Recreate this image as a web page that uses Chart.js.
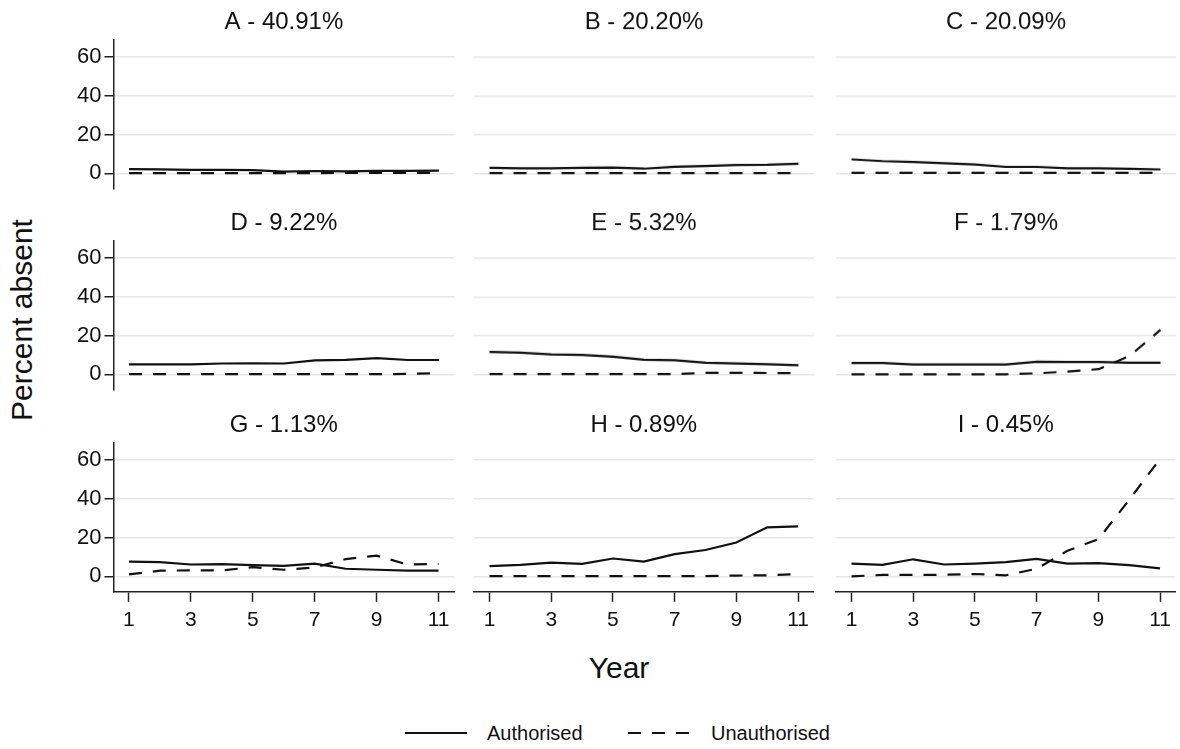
<!DOCTYPE html>
<html>
<head>
<meta charset="utf-8">
<script src="https://cdn.jsdelivr.net/npm/chart.js@4.4.1/dist/chart.umd.min.js"></script>
<style>
  body { margin: 0; background: #fff; width: 1180px; height: 749px; position: relative; overflow: hidden;
         font-family: "Liberation Sans", Arial, sans-serif; color: #111; }
  .panel { position: absolute; }
  .ytitle { position: absolute; left: 22px; top: 320px; font-size: 30px; line-height: 30px; white-space: nowrap;
            transform: translate(-50%, -50%) rotate(-90deg); }
  .xtitle { position: absolute; left: 619px; top: 668px; font-size: 30px; line-height: 30px;
            transform: translate(-50%, -50%); }
  .leg { position: absolute; top: 733px; font-size: 20px; line-height: 20px; transform: translateY(-50%); white-space: nowrap; }
  .legline { position: absolute; top: 723px; }
</style>
</head>
<body>
<div class="ytitle">Percent absent</div>
<div class="xtitle">Year</div>
<div id="legend"></div>

<script>
// values
const years = [1, 2, 3, 4, 5, 6, 7, 8, 9, 10, 11];
const xTicks = [1, 3, 5, 7, 9, 11];
const yTicks = [0, 20, 40, 60];
const seriesNames = ['Authorised', 'Unauthorised'];
const panelLetters = ['A', 'B', 'C', 'D', 'E', 'F', 'G', 'H', 'I'];
const panelShares = ['40.91', '20.20', '20.09', '9.22', '5.32', '1.79', '1.13', '0.89', '0.45'];

const authA = [2.2, 2.0, 1.8, 1.8, 1.6, 0.9, 1.2, 1.0, 1.3, 1.3, 1.4];
const unauthA = [0.1, 0.1, 0.1, 0.1, 0.1, 0.1, 0.1, 0.2, 0.2, 0.2, 0.2];
const authB = [2.8, 2.6, 2.6, 2.8, 3.0, 2.4, 3.4, 3.8, 4.3, 4.4, 4.9];
const unauthB = [0.1, 0.1, 0.1, 0.1, 0.1, 0.1, 0.1, 0.1, 0.1, 0.1, 0.1];
const authC = [7.2, 6.3, 5.8, 5.2, 4.5, 3.3, 3.3, 2.6, 2.6, 2.3, 2.0];
const unauthC = [0.2, 0.2, 0.2, 0.2, 0.2, 0.2, 0.2, 0.2, 0.2, 0.2, 0.2];
const authD = [5.1, 5.1, 5.1, 5.6, 5.7, 5.6, 7.2, 7.5, 8.4, 7.4, 7.4];
const unauthD = [0.1, 0.1, 0.1, 0.1, 0.1, 0.1, 0.1, 0.1, 0.1, 0.2, 0.6];
const authE = [11.6, 11.2, 10.3, 10.0, 9.1, 7.5, 7.3, 6.0, 5.6, 5.2, 4.7];
const unauthE = [0.1, 0.1, 0.1, 0.1, 0.1, 0.1, 0.1, 0.8, 0.8, 0.7, 0.6];
const authF = [5.8, 5.8, 5.1, 5.1, 5.1, 5.1, 6.5, 6.4, 6.4, 6.0, 6.0];
const unauthF = [0.0, 0.0, 0.0, 0.0, 0.0, 0.0, 0.5, 1.4, 2.7, 9.5, 23.0];
const authG = [7.6, 7.3, 6.1, 6.3, 5.8, 5.4, 6.6, 3.9, 3.4, 2.9, 2.9];
const unauthG = [1.0, 2.9, 3.1, 3.1, 4.7, 3.4, 4.6, 8.9, 10.7, 6.1, 6.4];
const authH = [5.3, 5.9, 7.1, 6.4, 9.2, 7.6, 11.5, 13.6, 17.5, 25.3, 25.8];
const unauthH = [0.1, 0.1, 0.1, 0.1, 0.1, 0.1, 0.1, 0.1, 0.4, 0.5, 1.2];
const authI = [6.6, 5.9, 8.8, 6.1, 6.6, 7.3, 9.0, 6.6, 6.8, 5.8, 4.1];
const unauthI = [0.0, 0.7, 0.7, 0.8, 1.2, 0.5, 3.9, 13.2, 19.2, 39.5, 60.7];

const authorised = [authA, authB, authC, authD, authE, authF, authG, authH, authI];
const unauthorised = [unauthA, unauthB, unauthC, unauthD, unauthE, unauthF, unauthG, unauthH, unauthI];

// where each plot area sits on the page
const colLeft = [113, 474, 836];
const rowTop = [40, 241, 443];
const areaW = 342;
const areaH = 149;

const FONT = '"Liberation Sans", Arial, sans-serif';
const INK = '#111';
const dash = [13, 11];

function makePanel(i) {
  const row = Math.floor(i / 3);
  const col = i % 3;
  const wrap = document.createElement('div');
  wrap.className = 'panel';
  const canvas = document.createElement('canvas');
  canvas.width = col === 0 ? 440 : 380;
  canvas.height = row === 2 ? 250 : 210;
  wrap.appendChild(canvas);
  document.body.appendChild(wrap);

  const chart = new Chart(canvas, {
    type: 'line',
    data: {
      datasets: [{
        label: seriesNames[0],
        data: years.map((y, k) => ({ x: y, y: authorised[i][k] })),
        borderColor: INK, borderWidth: 2.2, pointRadius: 0, tension: 0
      }, {
        label: seriesNames[1],
        data: years.map((y, k) => ({ x: y, y: unauthorised[i][k] })),
        borderColor: INK, borderWidth: 2.2, borderDash: dash, pointRadius: 0, tension: 0
      }]
    },
    options: {
      responsive: false,
      maintainAspectRatio: false,
      animation: false,
      layout: { padding: 0 },
      plugins: {
        legend: { display: false },
        tooltip: { enabled: false },
        title: {
          display: true,
          text: panelLetters[i] + ' - ' + panelShares[i] + '%',
          fullSize: false,
          color: INK,
          font: { family: FONT, size: 24, weight: 'normal' },
          padding: { top: 0, bottom: 3 }
        }
      },
      scales: {
        x: {
          type: 'linear', min: 0.5, max: 11.5,
          display: row === 2,
          afterBuildTicks: s => { s.ticks = xTicks.map(v => ({ value: v })); },
          grid: { drawOnChartArea: false, drawTicks: true, tickLength: 10, tickColor: '#222', tickWidth: 1.5 },
          border: { display: true, color: '#222', width: 1.5 },
          ticks: { color: INK, font: { family: FONT, size: 21 }, padding: 6, maxRotation: 0, autoSkip: false }
        },
        y: {
          min: -8, max: 69,
          afterBuildTicks: s => { s.ticks = yTicks.map(v => ({ value: v })); },
          grid: { color: '#e6e6e6', lineWidth: 1.5, drawTicks: col === 0, tickLength: 9, tickColor: '#222', tickWidth: 1.5 },
          border: { display: col === 0, color: '#222', width: 1.5 },
          ticks: { display: col === 0, color: INK, font: { family: FONT, size: 22 }, padding: 3 }
        }
      }
    }
  });

  // size the canvas so the plot area comes out areaW x areaH, then shift it into place
  let a = chart.chartArea;
  chart.resize(chart.width + areaW - (a.right - a.left), chart.height + areaH - (a.bottom - a.top));
  a = chart.chartArea;
  wrap.style.left = (colLeft[col] - a.left) + 'px';
  wrap.style.top = (rowTop[row] - a.top) + 'px';
}

for (let i = 0; i < 9; i++) makePanel(i);

// legend
const legend = document.getElementById('legend');
const legendX = [[405, 487], [628, 711]];
seriesNames.forEach((name, k) => {
  const svg = document.createElementNS('http://www.w3.org/2000/svg', 'svg');
  svg.setAttribute('class', 'legline');
  svg.setAttribute('width', 62);
  svg.setAttribute('height', 20);
  svg.style.left = legendX[k][0] + 'px';
  const ln = document.createElementNS('http://www.w3.org/2000/svg', 'line');
  ln.setAttribute('x1', 0); ln.setAttribute('x2', 62);
  ln.setAttribute('y1', 10); ln.setAttribute('y2', 10);
  ln.setAttribute('stroke', INK); ln.setAttribute('stroke-width', 2.2);
  if (k === 1) ln.setAttribute('stroke-dasharray', dash.join(' '));
  svg.appendChild(ln);
  legend.appendChild(svg);
  const t = document.createElement('div');
  t.className = 'leg';
  t.style.left = legendX[k][1] + 'px';
  t.textContent = name;
  legend.appendChild(t);
});
</script>
</body>
</html>
